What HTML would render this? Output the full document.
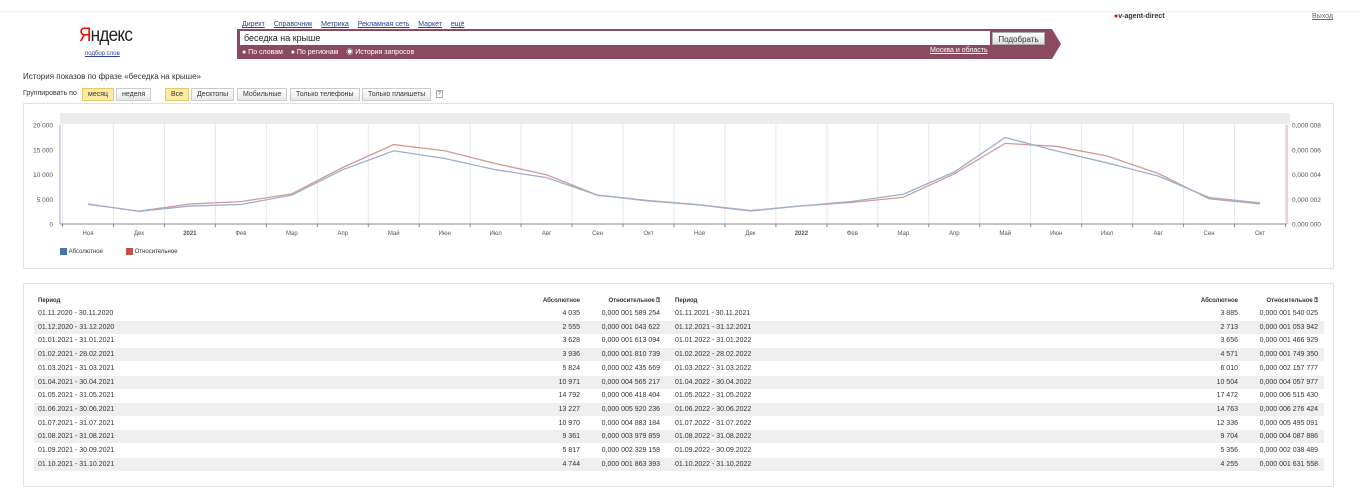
<!DOCTYPE html>
<html><head><meta charset="utf-8"><style>
body{margin:0;width:1360px;height:493px;background:#fff;font-family:"Liberation Sans","Noto Sans CJK SC",sans-serif;position:relative;overflow:hidden;color:#333}
.a{position:absolute;white-space:nowrap}
.lk{color:#2a3f9a;text-decoration:underline;font-size:7px}
.t{font-size:7px}
.btn{position:absolute;height:11px;top:88px;font-size:7px;line-height:11px;border:1px solid #ccc;background:linear-gradient(#fff,#e8e8e8);padding:0 5px;color:#333}
.row{position:absolute;left:34px;width:1290px;height:13px;font-size:7px;line-height:13px}
.row span{position:absolute}
</style></head><body>
<div class="a" style="left:0;top:11px;width:1360px;height:1px;background:#eee"></div>
<div class="a" style="left:242px;top:13px">
<span class="lk">Директ</span>&nbsp; <span class="lk">Справочник</span>&nbsp; <span class="lk">Метрика</span>&nbsp; <span class="lk">Рекламная сеть</span>&nbsp; <span class="lk">Маркет</span>&nbsp; <span class="lk">ещё</span></div>
<div class="a" style="left:79px;top:25px;font-size:19px;color:#222;letter-spacing:-0.8px;transform:scaleX(0.9);transform-origin:left"><span style="color:#e00">Я</span>ндекс</div>
<div class="a lk" style="left:85px;top:51px;font-size:6px">подбор слов</div>
<div class="a" style="left:237px;top:29px;width:815px;height:30px;background:#8b4a62"></div>
<div class="a" style="left:1052px;top:29px;width:0;height:0;border-top:15px solid transparent;border-bottom:15px solid transparent;border-left:9px solid #8b4a62"></div>
<div class="a" style="left:240px;top:31px;width:750px;height:14px;background:#fff;font-size:9px;line-height:14px;padding-left:4px;box-sizing:border-box;color:#222">беседка на крыше</div>
<div class="a" style="left:992px;top:32px;width:53px;height:13px;background:linear-gradient(#fff,#ddd);border:1px solid #aaa;font-size:8px;line-height:13px;text-align:center;box-sizing:border-box">Подобрать</div>
<div class="a" style="left:242px;top:47px;font-size:7px;color:#fff">● По словам &nbsp;&nbsp; ● По регионам &nbsp;&nbsp; ◉ История запросов</div>
<div class="a" style="left:930px;top:47px;font-size:7px;color:#fff;text-decoration:underline">Москва и область</div>
<div class="a" style="left:1114px;top:13px;font-size:7px;font-weight:bold;color:#333"><span style="color:#e00">●</span>v-agent-direct</div>
<div class="a" style="left:1312px;top:13px;font-size:7px;color:#666;text-decoration:underline">Выход</div>
<div class="a" style="left:23px;top:72px;font-size:8px;color:#333">История показов по фразе «беседка на крыше»</div>
<div class="a t" style="left:23px;top:90px">Группировать по</div>
<div class="btn" style="left:82px;background:#fdeaa4;border-color:#e6c96a">месяц</div>
<div class="btn" style="left:116px">неделя</div>
<div class="btn" style="left:165px;background:#fdeaa4;border-color:#e6c96a">Все</div>
<div class="btn" style="left:191px">Десктопы</div>
<div class="btn" style="left:237px">Мобильные</div>
<div class="btn" style="left:290px">Только телефоны</div>
<div class="btn" style="left:362px">Только планшеты</div>
<div class="a t" style="left:436px;top:90px;border:1px solid #aaa;font-size:5px;padding:0 1px">?</div>
<div class="a" style="left:23px;top:103px;width:1311px;height:166px;border:1px solid #e2e2e2;box-sizing:border-box"></div>
<svg class="a" style="left:0;top:0" width="1360" height="493" id="chart"></svg>
<div class="a" style="left:60px;top:248px;font-size:6px"><span style="display:inline-block;width:7px;height:7px;background:#4a72b0;vertical-align:middle"></span> Абсолютное</div>
<div class="a" style="left:126px;top:248px;font-size:6px"><span style="display:inline-block;width:7px;height:7px;background:#c0504d;vertical-align:middle"></span> Относительное</div>
<div class="a" style="left:23px;top:283px;width:1311px;height:204px;border:1px solid #e2e2e2;box-sizing:border-box"></div>
<div id="tbl"></div>
<script>
const months=["Ноя","Дек","2021","Фев","Мар","Апр","Май","Июн","Июл","Авг","Сен","Окт","Ноя","Дек","2022","Фев","Мар","Апр","Май","Июн","Июл","Авг","Сен","Окт"];
const absVals=[4035,2555,3628,3936,5824,10971,14792,13227,10970,9361,5817,4744,3885,2713,3656,4571,6010,10504,17472,14763,12336,9704,5356,4255];
const relVals=[1.589254,1.043622,1.613094,1.810739,2.435669,4.565217,6.418404,5.920236,4.883184,3.979859,2.329158,1.863393,1.540025,1.053942,1.466929,1.749350,2.157777,4.057977,6.515430,6.276424,5.495091,4.087886,2.038489,1.631558];
const periods=["01.11.2020 - 30.11.2020","01.12.2020 - 31.12.2020","01.01.2021 - 31.01.2021","01.02.2021 - 28.02.2021","01.03.2021 - 31.03.2021","01.04.2021 - 30.04.2021","01.05.2021 - 31.05.2021","01.06.2021 - 30.06.2021","01.07.2021 - 31.07.2021","01.08.2021 - 31.08.2021","01.09.2021 - 30.09.2021","01.10.2021 - 31.10.2021","01.11.2021 - 30.11.2021","01.12.2021 - 31.12.2021","01.01.2022 - 31.01.2022","01.02.2022 - 28.02.2022","01.03.2022 - 31.03.2022","01.04.2022 - 30.04.2022","01.05.2022 - 31.05.2022","01.06.2022 - 30.06.2022","01.07.2022 - 31.07.2022","01.08.2022 - 31.08.2022","01.09.2022 - 30.09.2022","01.10.2022 - 31.10.2022"];
const leftTicks=[0,5000,10000,15000,20000];
const rightTicks=[0,2,4,6,8];
const NS="http://www.w3.org/2000/svg";
const svg=document.getElementById('chart');
const X0=88,X1=1260,Y0=224,Y1=125;
const x=i=>X0+(X1-X0)*i/(months.length-1);
const yL=v=>Y0-(Y0-Y1)*v/20000;
const yR=v=>Y0-(Y0-Y1)*v/8;
function mk(t,a){const e=document.createElementNS(NS,t);for(const k in a)e.setAttribute(k,a[k]);svg.appendChild(e);return e;}
let e=mk('rect',{x:60,y:113,width:1230,height:11,fill:'#ececec'});


for(let i=0;i<=months.length;i++){const gx=x(i-0.5);if(gx<60||gx>1287)continue;
e=mk('line',{x1:gx,x2:gx,y1:124,y2:Y0,stroke:'#e4e8ee','stroke-width':1});


mk('line',{x1:gx,x2:gx,y1:Y0,y2:Y0+3,stroke:'#888'});}
e=mk('line',{x1:60,x2:1287,y1:Y0,y2:Y0,stroke:'#888'});


mk('line',{x1:60,x2:60,y1:Y1,y2:Y0,stroke:'#aac'});
mk('line',{x1:1287,x2:1287,y1:Y1,y2:Y0,stroke:'#caa'});
leftTicks.forEach(v=>{e=mk('text',{x:53,y:yL(v)+2.5,'font-size':6.5,'text-anchor':'end',fill:'#555'});e.textContent=v.toLocaleString('ru-RU').replace(/\s/g,' ');

});
rightTicks.forEach(v=>{e=mk('text',{x:1292,y:yR(v)+2.5,'font-size':6.5,fill:'#555'});e.textContent='0,000 00'+v;

});
months.forEach((m,i)=>{e=mk('text',{x:x(i),y:235,'font-size':6,'text-anchor':'middle',fill:'#555','font-weight':m.length==4?'bold':'normal'});e.textContent=m;

});
e=mk('polyline',{points:relVals.map((v,i)=>x(i)+','+yR(v)).join(' '),fill:'none',stroke:'#d09a9a','stroke-width':1.3});


e=mk('polyline',{points:absVals.map((v,i)=>x(i)+','+yL(v)).join(' '),fill:'none',stroke:'#9bb0cc','stroke-width':1.3});


const tbl=document.getElementById('tbl');
const fmtA=v=>v>=1000?Math.floor(v/1000)+' '+String(v%1000).padStart(3,'0'):String(v);
const fmtR=v=>{const s=v.toFixed(6).replace('.','');return '0,000 00'+s[0]+' '+s.slice(1,4)+' '+s.slice(4);};
let h=document.createElement('div');h.className='row';h.style.top='295px';h.style.fontWeight='bold';h.style.fontSize='6px';


h.innerHTML='<span style="left:4px">Период</span><span style="right:744px">Абсолютное</span><span style="right:664px">Относительное ⍰</span><span style="left:641px">Период</span><span style="right:86px">Абсолютное</span><span style="right:6px">Относительное ⍰</span>';
tbl.appendChild(h);
for(let r=0;r<12;r++){const d=document.createElement('div');d.className='row';d.style.top=(307+r*13.7)+'px';if(r%2)d.style.background='#efefef';


const j=r+12;
d.innerHTML=`<span style="left:4px">${periods[r]}</span><span style="right:744px">${fmtA(absVals[r])}</span><span style="right:664px">${fmtR(relVals[r])}</span><span style="left:641px">${periods[j]}</span><span style="right:86px">${fmtA(absVals[j])}</span><span style="right:6px">${fmtR(relVals[j])}</span>`;
tbl.appendChild(d);}
</script>
</body></html>
